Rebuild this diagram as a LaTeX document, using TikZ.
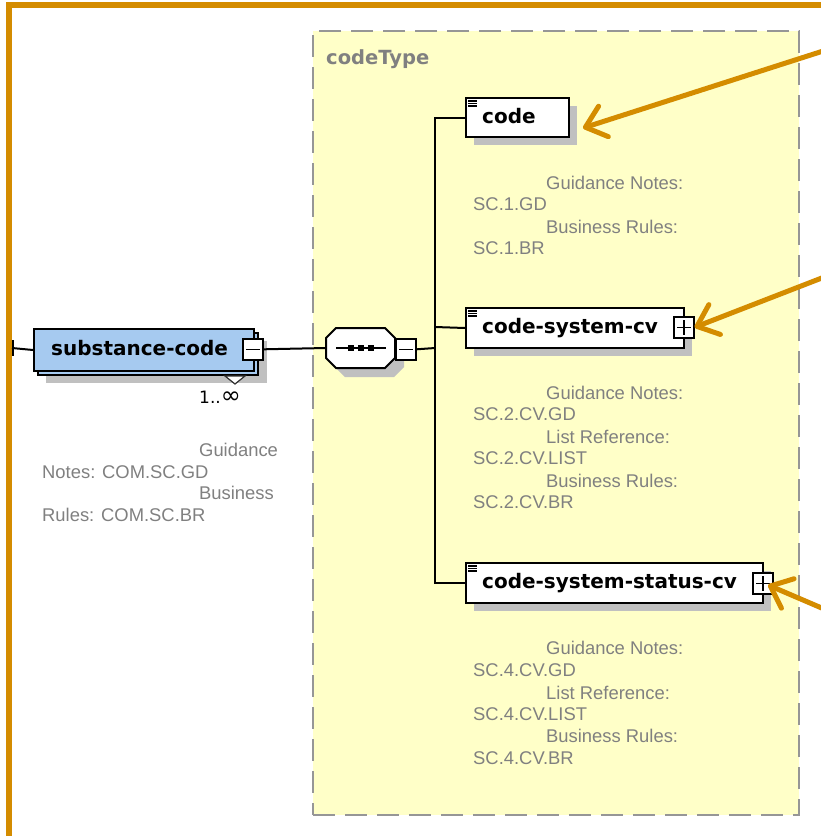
\documentclass[tikz,border=0pt]{standalone}
\usepackage{fontspec}
\newfontfamily\lblfont{DejaVu Sans}
\newfontfamily\notefont{Liberation Sans}
\usetikzlibrary{arrows.meta,shadows}
\definecolor{frameor}{RGB}{212,140,0}
\definecolor{boxyellow}{RGB}{255,255,200}
\definecolor{notegray}{RGB}{128,128,128}
\definecolor{dashgray}{RGB}{150,150,150}
\definecolor{shadowgray}{RGB}{192,192,192}
\definecolor{elblue}{RGB}{166,202,240}
\tikzset{
  elem/.style={draw=black, line width=2pt, fill=white, anchor=north west, inner sep=0pt,
    drop shadow={shadow xshift=8pt, shadow yshift=-8pt, fill=shadowgray, opacity=1}},
  pmbox/.style={draw=black, line width=1.6pt, fill=white, minimum width=20pt, minimum height=21pt, inner sep=0pt, anchor=north west},
  lbl/.style={anchor=base west, inner sep=0pt, font=\lblfont\bfseries\fontsize{20}{24}\selectfont},
  note/.style={anchor=base west, inner sep=0pt, text=notegray, font=\notefont\fontsize{18.4}{22}\selectfont},
  wire/.style={draw=black, line width=2pt},
  iconline/.style={draw=black, line width=1.1pt},
  pointer/.style={draw=frameor, line width=5pt, line cap=round, -{Straight Barb[length=19pt, width=32pt, round]}},
}
\newcommand{\elicon}[1]{%
  \draw[iconline] ([shift={(3pt,-4pt)}]#1.north west) -- ++(9,0);
  \draw[iconline] ([shift={(3pt,-6.5pt)}]#1.north west) -- ++(9,0);
  \draw[iconline] ([shift={(3pt,-9pt)}]#1.north west) -- ++(9,0);}
\newcommand{\minussign}[1]{\draw[line width=1.6pt] ([xshift=4pt]#1.west) -- ([xshift=-4pt]#1.east);}
\newcommand{\plussign}[1]{\draw[line width=1.6pt] ([xshift=4pt]#1.west) -- ([xshift=-4pt]#1.east);
  \draw[line width=1.6pt] ([yshift=-4pt]#1.north) -- ([yshift=4pt]#1.south);}
\begin{document}
\begin{tikzpicture}[x=1pt,y=-1pt]
\useasboundingbox (0,0) rectangle (821,836);
\clip (0,0) rectangle (821,836);
\fill[white] (0,0) rectangle (821,836);

% orange frame
\draw[frameor, line width=6pt, line join=miter] (9,860) -- (9,4.5) -- (860,4.5);

% codeType container
\node[draw=dashgray, line width=2pt, dash pattern=on 22pt off 10pt, fill=boxyellow,
      minimum width=486pt, minimum height=784pt, anchor=north west, inner sep=0pt] (ctype) at (312,30) {};
\node[anchor=base west, inner sep=0pt, text=notegray, font=\lblfont\bfseries\fontsize{19.5}{24}\selectfont] (ctypelbl) at (326,64) {codeType};

% substance-code element (repeating)
\fill[shadowgray] (46,341) rectangle (267,383);
\draw[line width=2pt, fill=elblue] (38,333) rectangle (258,375);
\node[draw=black, line width=2pt, fill=elblue, anchor=north west, minimum width=220pt, minimum height=42pt, inner sep=0pt] (subst) at (33,328) {};
\filldraw[fill=white, draw=black!80, line width=1.2pt] (225,376) -- (245,376) -- (235,384) -- cycle;
\node[lbl] (substlbl) at (51,355) {substance-code};
\node[pmbox] (substminus) at (242,338) {};
\minussign{substminus}
\node[anchor=base west, inner sep=0pt, font=\lblfont\fontsize{17}{20}\selectfont] (mult) at (199,403) {1..{\fontsize{24}{24}\selectfont ∞}};
\coordinate (leftend) at (12,348);
\draw[wire] (leftend) -- (subst.west);
\draw[wire] (13,340) -- (13,356);

\node[note] (sn1) at (199,456) {Guidance};
\node[note] (sn2) at (42,478) {Notes: COM.SC.GD};
\node[note] (sn3) at (199,499) {Business};
\node[note] (sn4) at (42,521) {Rules: COM.SC.BR};

% sequence compositor
\fill[shadowgray] (335,347) -- (345,337) -- (394,337) -- (404,347) -- (404,367) -- (394,377) -- (345,377) -- (335,367) -- cycle;
\filldraw[fill=white, draw=black, line width=2pt] (326,338) -- (336,328) -- (385,328) -- (395,338) -- (395,358) -- (385,368) -- (336,368) -- (326,358) -- cycle;
\node[minimum width=69pt, minimum height=40pt, inner sep=0pt] (seq) at (360.5,348) {};
\draw[line width=1.6pt] (336,348) -- (386,348);
\foreach \dx in {351,361,371} \fill[black] (\dx-3,345) rectangle (\dx+3,351);
\node[pmbox] (seqminus) at (395,338) {};
\minussign{seqminus}
\draw[wire] (substminus.east) -- (seq.west);

% children
\node[elem, minimum width=103pt, minimum height=39pt] (code) at (465,97) {};
\node[elem, minimum width=218pt, minimum height=40pt] (csys) at (465,307) {};
\node[elem, minimum width=297pt, minimum height=40pt] (cstat) at (465,562) {};
\elicon{code}
\elicon{csys}
\elicon{cstat}
\node[lbl] (codelbl) at (482,123) {code};
\node[lbl] (csyslbl) at (482,333) {code-system-cv};
\node[lbl] (cstatlbl) at (482,588) {code-system-status-cv};
\node[pmbox] (csysplus) at (673,316) {};
\plussign{csysplus}
\node[pmbox] (cstatplus) at (752,572) {};
\plussign{cstatplus}

% wiring
\coordinate (trunk) at (435,348);
\draw[wire] (seqminus.east) -- (trunk);
\draw[wire] (code.west) -| (trunk) |- (cstat.west);
\draw[wire] (435,327) -- (csys.west);

% notes
\node[note] (c1) at (546,189) {Guidance Notes:};
\node[note] (c2) at (473,210) {SC.1.GD};
\node[note] (c3) at (546,233) {Business Rules:};
\node[note] (c4) at (473,254) {SC.1.BR};

\node[note] (s1) at (546,399) {Guidance Notes:};
\node[note] (s2) at (473,420) {SC.2.CV.GD};
\node[note] (s3) at (546,443) {List Reference:};
\node[note] (s4) at (473,464) {SC.2.CV.LIST};
\node[note] (s5) at (546,487) {Business Rules:};
\node[note] (s6) at (473,508) {SC.2.CV.BR};

\node[note] (t1) at (546,654) {Guidance Notes:};
\node[note] (t2) at (473,676) {SC.4.CV.GD};
\node[note] (t3) at (546,699) {List Reference:};
\node[note] (t4) at (473,720) {SC.4.CV.LIST};
\node[note] (t5) at (546,742) {Business Rules:};
\node[note] (t6) at (473,764) {SC.4.CV.BR};

% orange pointers
\coordinate (p1s) at (845,44);
\coordinate (p1e) at (583,128);
\coordinate (p2s) at (845,269);
\coordinate (p3s) at (845,618);
\coordinate (p3e) at (768,585);
\draw[pointer] (p1s) -- (p1e);
\draw[pointer] (p2s) -- (csysplus.east);
\draw[pointer] (p3s) -- (p3e);
\end{tikzpicture}
\end{document}
